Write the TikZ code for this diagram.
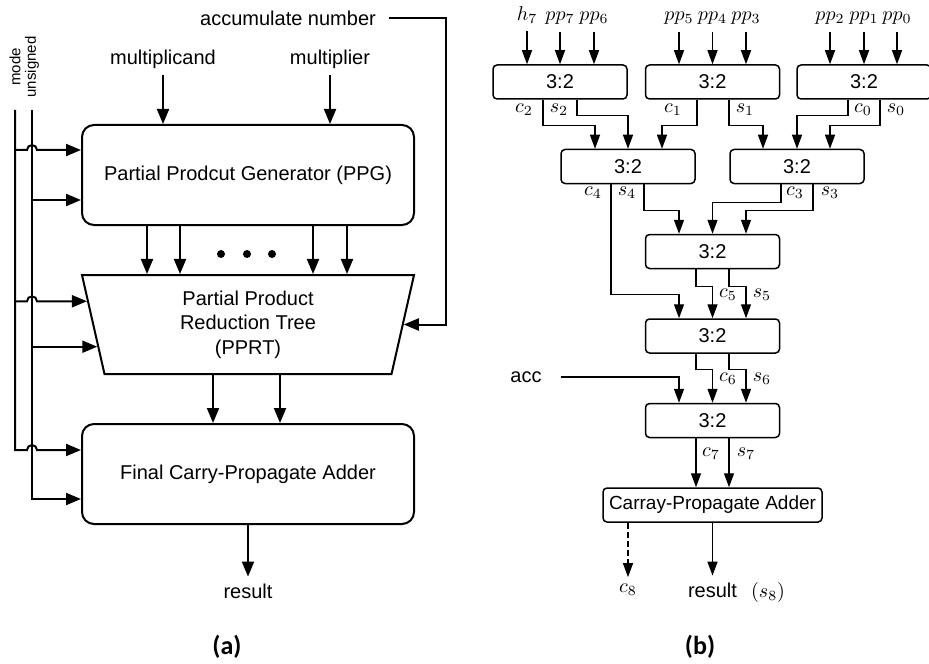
\documentclass[tikz,border=0pt]{standalone}
\usepackage[no-math]{fontspec}
\setmainfont{Liberation Sans}
\newfontfamily\capfont{Carlito}
\usetikzlibrary{calc,positioning,arrows.meta,shapes.geometric}

\begin{document}
\begin{tikzpicture}[x=0.5pt,y=-0.5pt]
	\tikzset{
		big box/.style={draw,rounded corners=6pt,line width=1pt,minimum width=166pt,minimum height=50pt,font=\fontsize{10}{12}\selectfont},
		csa/.style={draw,rounded corners=2pt,line width=0.75pt,minimum width=67pt,minimum height=17pt,inner sep=0pt,font=\fontsize{10}{12}\selectfont},
		arra/.style={line width=1pt,-{Triangle[length=7.5pt,width=6pt]}},
		arrb/.style={line width=0.7pt,-{Triangle[length=7pt,width=5pt]}},
		lbl/.style={font=\fontsize{10}{12}\selectfont},
		side lbl/.style={rotate=90,font=\fontsize{7.5}{9}\selectfont},
		caption/.style={font=\capfont\bfseries\fontsize{13}{15}\selectfont}
	}
	\useasboundingbox (0,0) rectangle (929,663);

	% (a)
	\node [big box] (ppg) at (248,175) {Partial Prodcut Generator (PPG)};
	\node [draw,trapezium,trapezium left angle=108.4,trapezium right angle=108.4,trapezium stretches body,
		minimum width=166pt,minimum height=49.5pt,inner sep=0pt,line width=1pt,align=center,
		font=\fontsize{10}{12.25}\selectfont] (pprt) at (248,324.5) {Partial Product\\Reduction Tree\\(PPRT)};
	\node [big box] (fcpa) at (248,474) {Final Carry-Propagate Adder};

	\node [lbl] (mcand) at (163,59) {multiplicand};
	\node [lbl] (mplier) at (330,59) {multiplier};
	\node [lbl] (accn) at (288,18) {accumulate number};
	\node [side lbl] (mode) at (15,67) {mode};
	\node [side lbl] (unsg) at (32,67) {unsigned};
	\node [lbl] (resa) at (248,591) {result};
	\node [caption] (capa) at (227,647) {(a)};

	\draw[arra] (mcand) -- (mcand |- ppg.north);
	\draw[arra] (mplier) -- (mplier |- ppg.north);
	\coordinate (accbend) at (446,18);
	\draw[arra] ([xshift=3pt]accn.east) -- (accbend) |- (pprt.east);

	\coordinate (mtop) at (15,110);
	\coordinate (utop) at (32,110);
	\coordinate (e1) at ([yshift=12.5pt]ppg.west);
	\coordinate (e2) at ([yshift=-12.5pt]ppg.west);
	\coordinate (e3) at ($(pprt.top left corner)!0.27!(pprt.bottom left corner)$);
	\coordinate (e4) at ($(pprt.top left corner)!0.72!(pprt.bottom left corner)$);
	\coordinate (e5) at ([yshift=12pt]fcpa.west);
	\coordinate (e6) at ([yshift=-12.5pt]fcpa.west);
	\draw[arra] (mtop) -- (mtop |- e5) -- ++(12,0) arc[start angle=180,end angle=0,radius=2.5pt] -- (e5);
	\draw[arra] (utop) |- (e6);
	\foreach \e in {e1,e3}
		\draw[arra] (mtop |- \e) -- ++(12,0) arc[start angle=180,end angle=0,radius=2.5pt] -- (\e);
	\foreach \e in {e2,e4}
		\draw[arra] (utop |- \e) -- (\e);

	\foreach \dx in {-50.5,-34,32.5,49.5}
		\draw[arra] ([xshift=\dx pt]ppg.south) -- ([xshift=\dx pt]ppg.south |- pprt.north);
	\foreach \x in {221,247,272}
		\fill (\x,254) circle (2pt);
	\foreach \dx in {-17.5,16}
		\draw[arra] ([xshift=\dx pt]pprt.south) -- ([xshift=\dx pt]pprt.south |- fcpa.north);
	\draw[arra] (fcpa.south) -- (resa);

	% (b)
	\node [csa] (csa1) at (560,82) {3:2};
	\node [csa] (csa2) at (712.5,82) {3:2};
	\node [csa] (csa3) at (864,82) {3:2};
	\node [csa] (csa4) at (628,166.5) {3:2};
	\node [csa] (csa5) at (797,166.5) {3:2};
	\node [csa] (csa6) at (712.5,251.5) {3:2};
	\node [csa] (csa7) at (712.5,336) {3:2};
	\node [csa] (csa8) at (712.5,420.5) {3:2};
	\node [csa,minimum width=109.5pt,font=\fontsize{9.5}{11}\selectfont] (cpa) at (712.5,505) {Carray-Propagate Adder};

	\foreach \nm/\t/\x/\b in {h7/h_7/527/csa1,pp7/pp_7/560/csa1,pp6/pp_6/594/csa1,
			pp5/pp_5/679/csa2,pp4/pp_4/712.5/csa2,pp3/pp_3/746/csa2,
			pp2/pp_2/830/csa3,pp1/pp_1/864/csa3,pp0/pp_0/897/csa3}{
		\node [lbl,anchor=base] (\nm) at (\x,21) {$\t$};
		\draw[arrb] (\nm) -- (\nm |- \b.north);
	}

	\draw[arrb] ([xshift=-8.5pt]csa1.south) -- ++(0,26) -| ([xshift=-16.5pt]csa4.north);
	\draw[arrb] ([xshift=8.5pt]csa1.south) -- ++(0,16) -| (csa4.north);
	\draw[arrb] ([xshift=-7.75pt]csa2.south) -- ++(0,26) -| ([xshift=17pt]csa4.north);
	\draw[arrb] ([xshift=8.25pt]csa2.south) -- ++(0,26) -| ([xshift=-17pt]csa5.north);
	\draw[arrb] ([xshift=-8pt]csa3.south) -- ++(0,16) -| (csa5.north);
	\draw[arrb] ([xshift=8pt]csa3.south) -- ++(0,26) -| ([xshift=16.5pt]csa5.north);

	\draw[arrb] ([xshift=-8.5pt]csa4.south) -- ++(0,110) -| ([xshift=-16.75pt]csa7.north);
	\draw[arrb] ([xshift=8pt]csa4.south) -- ++(0,26) -| ([xshift=-16.75pt]csa6.north);
	\draw[arrb] ([xshift=-8pt]csa5.south) -- ++(0,18) -| (csa6.north);
	\draw[arrb] ([xshift=8pt]csa5.south) -- ++(0,26) -| ([xshift=16.75pt]csa6.north);

	\draw[arrb] ([xshift=-8.25pt]csa6.south) -- ++(0,17) -| (csa7.north);
	\draw[arrb] ([xshift=8.25pt]csa6.south) -- ++(0,17) -| ([xshift=16.75pt]csa7.north);
	\draw[arrb] ([xshift=-8.25pt]csa7.south) -- ++(0,16) -| (csa8.north);
	\draw[arrb] ([xshift=8.25pt]csa7.south) -- ++(0,16) -| ([xshift=16.75pt]csa8.north);

	\node [lbl] (acc) at (526,377) {acc};
	\draw[arrb] ([xshift=6pt]acc.east) -| ([xshift=-16.75pt]csa8.north);

	\draw[arrb] ([xshift=-8.25pt]csa8.south) -- ([xshift=-8.25pt]cpa.north);
	\draw[arrb] ([xshift=8.25pt]csa8.south) -- ([xshift=8.25pt]cpa.north);

	\foreach \nm/\t/\x/\y in {c2/c_2/524/110,s2/s_2/559/110,c1/c_1/673/110,s1/s_1/745/110,
			c0/c_0/863/110,s0/s_0/896/110,c4/c_4/593/193,s4/s_4/627/193,c3/c_3/795/193,
			s3/s_3/830/193,c5/c_5/728/295,s5/s_5/762/295,c6/c_6/728/379,s6/s_6/762/379,
			c7/c_7/711/454,s7/s_7/746/454}
		\node [lbl] (\nm) at (\x,\y) {$\t$};

	\node [lbl] (c8) at (628,590) {$c_8$};
	\node [lbl] (resb) at (712.5,590) {result};
	\node [lbl,anchor=base west] (s8) at (resb.base east) {$(s_8)$};
	\draw[arrb,dash pattern=on 3pt off 1.5pt] (c8 |- cpa.south) -- (c8);
	\draw[arrb] (cpa.south) -- (resb);
	\node [caption] (capb) at (700,647) {(b)};
\end{tikzpicture}
\end{document}
